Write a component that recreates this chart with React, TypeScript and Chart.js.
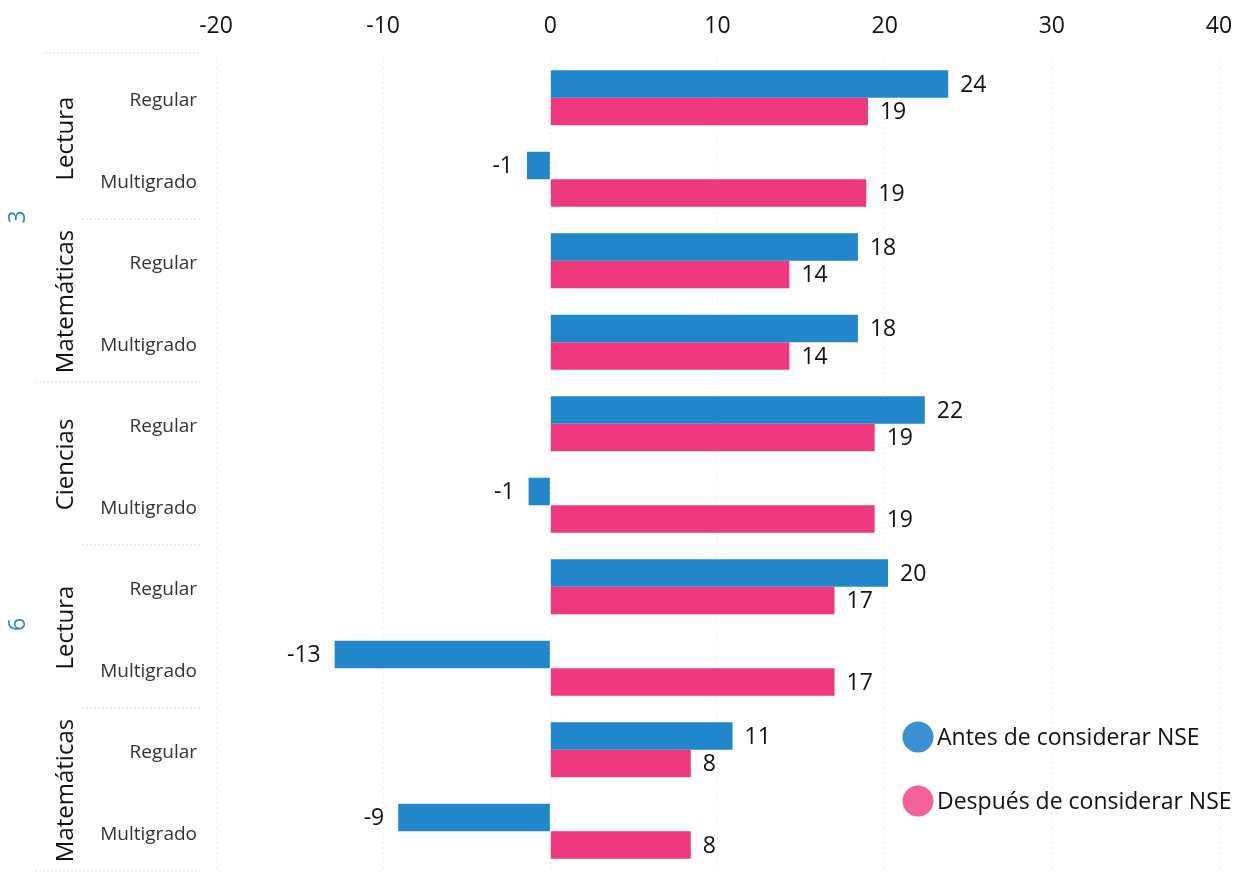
import React, { useEffect, useRef } from "react";
import { Chart, registerables } from "chart.js";

Chart.register(...registerables);

const categories = ["Regular", "Multigrado", "Regular", "Multigrado", "Regular", "Multigrado", "Regular", "Multigrado", "Regular", "Multigrado"];
const subjects = [
  { name: "Lectura", from: 0, to: 1 },
  { name: "Matemáticas", from: 2, to: 3 },
  { name: "Ciencias", from: 4, to: 5 },
  { name: "Lectura", from: 6, to: 7 },
  { name: "Matemáticas", from: 8, to: 9 },
];
const grades = [
  { name: "3", from: 0, to: 3 },
  { name: "6", from: 4, to: 9 },
];
const antes = [23.8, -1.4, 18.4, 18.4, 22.4, -1.3, 20.2, -12.9, 10.9, -9.1];
const despues = [19.0, 18.9, 14.3, 14.3, 19.4, 19.4, 17.0, 17.0, 8.4, 8.4];
const seriesNames = ["Antes de considerar NSE", "Después de considerar NSE"];
const barColors = ["#2187CA", "#F0387F"];
const legendColors = ["#3A90D2", "#F2639C"];

const FONT = "'Open Sans', 'Noto Sans', sans-serif";

const overlay = {
  id: "overlay",
  afterDatasetsDraw(chart: any) {
    const ctx = chart.ctx;
    const y = chart.scales.y;
    const half = (y.getPixelForValue(1) - y.getPixelForValue(0)) / 2;
    ctx.save();
    // value labels
    ctx.font = `23px ${FONT}`;
    ctx.fillStyle = "#111";
    ctx.textBaseline = "middle";
    chart.data.datasets.forEach((ds: any, di: number) => {
      const meta = chart.getDatasetMeta(di);
      meta.data.forEach((bar: any, i: number) => {
        const v = ds.data[i];
        const txt = String(Math.round(v));
        if (v >= 0) {
          ctx.textAlign = "left";
          ctx.fillText(txt, bar.x + 12, bar.y + 1);
        } else {
          ctx.textAlign = "right";
          ctx.fillText(txt, bar.x - 14, bar.y + 1);
        }
      });
    });
    // category labels
    ctx.font = `19px ${FONT}`;
    ctx.fillStyle = "#333";
    ctx.textAlign = "right";
    categories.forEach((c, i) => {
      ctx.fillText(c, 197, y.getPixelForValue(i) + 3);
    });
    // separators
    ctx.strokeStyle = "#dcdcdc";
    ctx.lineWidth = 1;
    ctx.setLineDash([2, 2]);
    const line = (x0: number, x1: number, yy: number) => {
      ctx.beginPath();
      ctx.moveTo(x0, yy);
      ctx.lineTo(x1, yy);
      ctx.stroke();
    };
    line(45, 200, y.getPixelForValue(0) - half - 4);
    subjects.forEach((s) => {
      const yy = y.getPixelForValue(s.to) + half;
      const isGradeEnd = grades.some((g) => g.to === s.to);
      line(isGradeEnd ? 35 : 82, 200, yy - 1);
    });
    ctx.setLineDash([]);
    // subject labels
    ctx.font = `24px ${FONT}`;
    ctx.fillStyle = "#111";
    ctx.textAlign = "center";
    subjects.forEach((s) => {
      const cy = (y.getPixelForValue(s.from) + y.getPixelForValue(s.to)) / 2;
      ctx.save();
      ctx.translate(66, cy);
      ctx.rotate(-Math.PI / 2);
      ctx.fillText(s.name, 0, 0);
      ctx.restore();
    });
    // grade labels
    ctx.font = `23px ${FONT}`;
    ctx.fillStyle = "#2F86C8";
    grades.forEach((g) => {
      const cy = (y.getPixelForValue(g.from) + y.getPixelForValue(g.to)) / 2;
      ctx.save();
      ctx.translate(18, cy - 3);
      ctx.rotate(-Math.PI / 2);
      ctx.fillText(g.name, 0, 0);
      ctx.restore();
    });
    // legend
    ctx.font = `23px ${FONT}`;
    ctx.textAlign = "left";
    seriesNames.forEach((n, i) => {
      const cy = 737 + i * 64;
      ctx.beginPath();
      ctx.fillStyle = legendColors[i];
      ctx.arc(918, cy, 15.5, 0, Math.PI * 2);
      ctx.fill();
      ctx.fillStyle = "#111";
      ctx.fillText(n, 937, cy + 1);
    });
    ctx.restore();
  },
};

export default function App() {
  const ref = useRef<HTMLCanvasElement>(null);
  useEffect(() => {
    if (!ref.current) return;
    const chart = new Chart(ref.current, {
      type: "bar",
      data: {
        labels: categories,
        datasets: [
          { label: seriesNames[0], data: antes, backgroundColor: barColors[0], categoryPercentage: 0.675, barPercentage: 1 },
          { label: seriesNames[1], data: despues, backgroundColor: barColors[1], categoryPercentage: 0.675, barPercentage: 1 },
        ],
      },
      options: {
        indexAxis: "y",
        animation: false,
        responsive: false,
        maintainAspectRatio: false,
        layout: { padding: { left: 216, right: 22, top: 0, bottom: 0 } },
        plugins: { legend: { display: false }, tooltip: { enabled: false } },
        scales: {
          x: {
            position: "top",
            min: -20,
            max: 40,
            ticks: { stepSize: 10, color: "#111", font: { size: 23, family: FONT }, padding: 17 },
            grid: { color: "#ececec", drawTicks: false },
            border: { display: false, dash: [2, 3] },
            afterFit: (s: any) => { s.height = 57; s.paddingLeft = 0; s.paddingRight = 0; },
          },
          y: { display: false },
        },
      },
      plugins: [overlay],
    });
    return () => chart.destroy();
  }, []);
  return (
    <div style={{ position: "fixed", left: 0, top: 0, width: 1241, height: 872, background: "#fff" }}>
      <canvas ref={ref} width={1241} height={872} style={{ width: 1241, height: 872 }} />
    </div>
  );
}
